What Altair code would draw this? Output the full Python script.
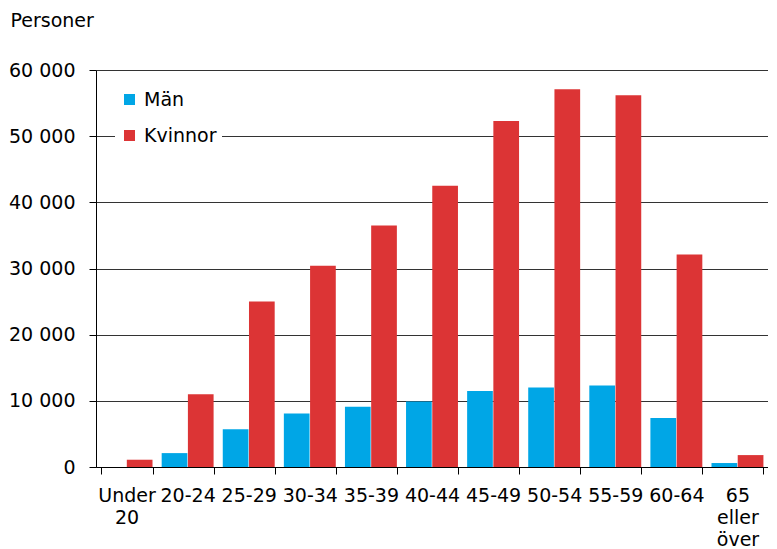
import altair as alt
import pandas as pd

categories = ["Under 20", "20-24", "25-29", "30-34", "35-39", "40-44",
              "45-49", "50-54", "55-59", "60-64", "65 eller över"]
man = [0, 2100, 5700, 8100, 9100, 9900, 11500, 12000, 12300, 7400, 600]
kvinnor = [1100, 11000, 25000, 30400, 36500, 42500, 52300, 57100, 56200, 32100, 1800]
series = ["Män", "Kvinnor"]
colors = ["#00a6e6", "#dc3435"]
y_ticks = [0, 10000, 20000, 30000, 40000, 50000, 60000]

rows = []
for c, m, k in zip(categories, man, kvinnor):
    rows.append({"Ålder": c, "Kön": "Män", "Personer": m})
    rows.append({"Ålder": c, "Kön": "Kvinnor", "Personer": k})
df = pd.DataFrame(rows)

FONT = "DejaVu Sans"
FS = 19

chart = alt.Chart(df).mark_bar().encode(
    x=alt.X("Ålder:N", sort=categories,
            scale=alt.Scale(paddingInner=0.15, paddingOuter=0.075),
            axis=alt.Axis(title=None, labelAngle=0, tickBand="extent",
                          labelExpr="split(datum.label, ' ')",
                          labelLineHeight=22, labelPadding=12,
                          labelFont=FONT, labelFontSize=FS, labelColor="#000000",
                          domainColor="#000000", tickColor="#000000",
                          tickSize=7, grid=False, labelBaseline="top")),
    xOffset=alt.XOffset("Kön:N", sort=series, scale=alt.Scale(paddingInner=0.02)),
    y=alt.Y("Personer:Q",
            scale=alt.Scale(domain=[0, 60000], nice=False),
            axis=alt.Axis(values=y_ticks, title="Personer", titleAngle=0,
                          titleX=-86, titleY=-50, titleAlign="left",
                          titleBaseline="middle", titleFont=FONT,
                          titleFontSize=FS, titleFontWeight="normal",
                          titleColor="#000000",
                          labelExpr="datum.value == 0 ? '0' : format(datum.value/1000, 'd') + ' 000'",
                          labelFont=FONT, labelFontSize=FS, labelColor="#000000",
                          labelPadding=14, tickSize=7, tickColor="#000000",
                          domainColor="#000000", gridColor="#333333",
                          gridWidth=1, gridOpacity=1)),
    color=alt.Color("Kön:N", sort=series,
                    scale=alt.Scale(domain=series, range=colors),
                    legend=alt.Legend(title=None, orient="none",
                                      legendX=19, legendY=15,
                                      fillColor="white", padding=5,
                                      symbolType="square", symbolSize=121,
                                      symbolStrokeWidth=0, symbolOpacity=1,
                                      labelFont=FONT, labelFontSize=FS,
                                      labelColor="#000000", labelOffset=5,
                                      rowPadding=16)),
).properties(
    width=672,
    height=397,
    padding={"left": 0, "top": 3, "right": 0, "bottom": 0},
).configure_view(
    stroke=None
).configure(
    background="white"
)

chart.save("out.html", embed_options={"renderer": "svg", "actions": False})
